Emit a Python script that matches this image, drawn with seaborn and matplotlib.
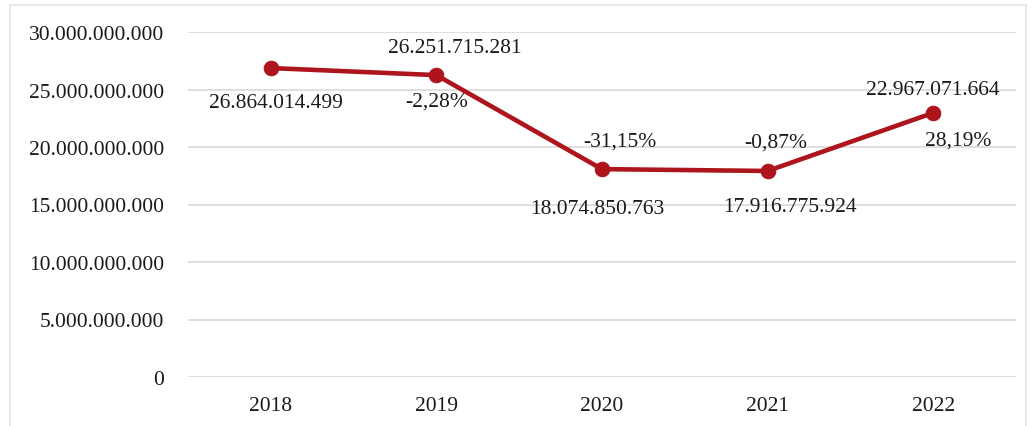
import matplotlib
matplotlib.use("Agg")
import matplotlib.pyplot as plt
import matplotlib.ticker as mticker
from matplotlib.patches import Rectangle
import seaborn as sns
import pandas as pd

years = ["2018", "2019", "2020", "2021", "2022"]
values = [26864014499, 26251715281, 18074850763, 17916775924, 22967071664]
value_labels = ["26.864.014.499", "26.251.715.281", "18.074.850.763", "17.916.775.924", "22.967.071.664"]
pct_labels = ["", "-2,28%", "-31,15%", "-0,87%", "28,19%"]

# label offsets in pixels (dx, dy)
value_offsets = [(5, -34), (18, 28), (-5, -39), (22, -36), (0, 23)]
pct_offsets = [(0, 0), (0, -26), (18, 28), (8, 29), (25, -27)]

sns.set_theme(style="white")
plt.rcParams["font.family"] = ["Liberation Serif", "DejaVu Serif"]

df = pd.DataFrame({"year": years, "value": values})

fig = plt.figure(figsize=(10.34, 4.27), dpi=100)
ax = fig.add_axes([188 / 1034, 49 / 427, (1016 - 188) / 1034, (378 - 33) / 427])

color = "#AE141C"
sns.lineplot(data=df, x="year", y="value", ax=ax, color=color, linewidth=3.3,
             marker="o", markersize=10.5, markeredgecolor=color, markerfacecolor=color)

fs = 15.5
ax.set_xlim(-0.5, 4.5)
ax.set_ylim(0, 30000000000)
ax.yaxis.set_major_locator(mticker.MultipleLocator(5000000000))
ax.yaxis.set_major_formatter(mticker.FuncFormatter(lambda v, p: f"{int(v):,}".replace(",", ".")))
ax.grid(axis="y", color="#d9d9d9", linewidth=1.2)
ax.set_axisbelow(True)
for s in ax.spines.values():
    s.set_visible(False)
ax.set_xlabel("")
ax.set_ylabel("")
ax.tick_params(axis="y", length=0, pad=17, labelsize=fs, labelcolor="#1a1a1a")
ax.tick_params(axis="x", length=0, pad=14, labelsize=fs, labelcolor="#1a1a1a")

for i, (v, vl, pl) in enumerate(zip(values, value_labels, pct_labels)):
    ax.annotate(vl, (i, v), xytext=value_offsets[i], textcoords="offset pixels",
                ha="center", va="center", fontsize=fs, color="#1a1a1a")
    if pl:
        ax.annotate(pl, (i, v), xytext=pct_offsets[i], textcoords="offset pixels",
                    ha="center", va="center", fontsize=fs, color="#1a1a1a")

fig.patches.append(Rectangle((10 / 1034, -0.01), (1026 - 10) / 1034, (427 - 6) / 427 + 0.01,
                             transform=fig.transFigure, fill=False, edgecolor="#e3e3e3", linewidth=1.2))

fig.savefig("out.png", dpi=100)
